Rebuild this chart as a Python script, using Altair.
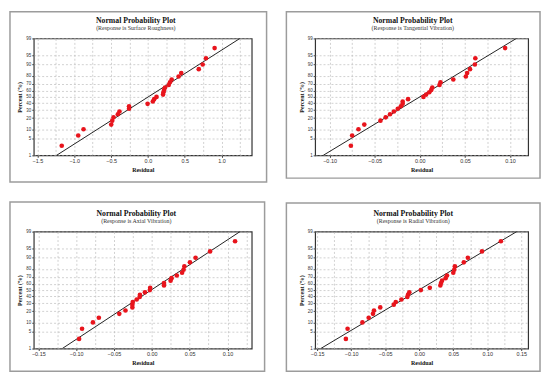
import altair as alt
import pandas as pd
from statistics import NormalDist

# ---------------- data ----------------
percent = [2.6, 6.2, 9.9, 13.5, 17.2, 20.8, 24.5, 28.1, 31.8, 35.4, 39.1, 42.7, 46.4,
           50.0, 53.6, 57.3, 60.9, 64.6, 68.2, 71.9, 75.5, 79.2, 82.8, 86.5, 90.1, 93.8, 97.4]

res_surface = [-1.170, -0.946, -0.874, -0.498, -0.484, -0.466, -0.408, -0.386, -0.256, -0.256,
               -0.004, 0.067, 0.085, 0.117, 0.206, 0.211, 0.220, 0.233, 0.283, 0.300,
               0.323, 0.417, 0.453, 0.691, 0.744, 0.789, 0.906]
res_tangential = [-0.0764, -0.0750, -0.0680, -0.0615, -0.0436, -0.0378, -0.0330, -0.0287, -0.0244,
                  -0.0210, -0.0190, -0.0190, -0.0130, 0.0040, 0.0070, 0.0105, 0.0127, 0.0138,
                  0.0218, 0.0229, 0.0371, 0.0510, 0.0524, 0.0556, 0.0610, 0.0615, 0.0945]
res_axial = [-0.0961, -0.0922, -0.0778, -0.0700, -0.0430, -0.0348, -0.0257, -0.0257, -0.0252,
             -0.0200, -0.0160, -0.0157, -0.0091, -0.0026, -0.0022, 0.0161, 0.0161, 0.0248,
             0.0261, 0.0330, 0.0400, 0.0420, 0.0430, 0.0504, 0.0578, 0.0770, 0.1100]
res_radial = [-0.1078, -0.1053, -0.0835, -0.0743, -0.0680, -0.0665, -0.0573, -0.0374, -0.0345,
              -0.0262, -0.0175, -0.0165, -0.0146, 0.0024, 0.0155, 0.0310, 0.0320, 0.0335,
              0.0388, 0.0408, 0.0500, 0.0515, 0.0524, 0.0655, 0.0714, 0.0922, 0.1200]

fit_percent = [1, 99]
fit_surface = [-1.24, 1.25]
fit_tangential = [-0.107, 0.107]
fit_axial = [-0.1183, 0.1165]
fit_radial = [-0.1447, 0.1432]

y_tick_percent = [1, 5, 10, 20, 30, 40, 50, 60, 70, 80, 90, 95, 99]

labels_surface = [-1.5, -1.0, -0.5, 0.0, 0.5, 1.0]
grid_surface = [-1.5, -1.25, -1.0, -0.75, -0.5, -0.25, 0.0, 0.25, 0.5, 0.75, 1.0, 1.25]
labels_tangential = [-0.10, -0.05, 0.0, 0.05, 0.10]
grid_tangential = [-0.10, -0.075, -0.05, -0.025, 0.0, 0.025, 0.05, 0.075, 0.10]
labels_axial = [-0.15, -0.10, -0.05, 0.0, 0.05, 0.10]
grid_axial = [-0.15, -0.125, -0.10, -0.075, -0.05, -0.025, 0.0, 0.025, 0.05, 0.075, 0.10, 0.125]
labels_radial = [-0.15, -0.10, -0.05, 0.0, 0.05, 0.10, 0.15]
grid_radial = [-0.15, -0.125, -0.10, -0.075, -0.05, -0.025, 0.0, 0.025, 0.05, 0.075, 0.10, 0.125, 0.15]

main_title = "Normal Probability Plot"
subtitles = ["(Response is Surface Roughness)", "(Response is Tangential Vibration)",
             "(Response is Axial Vibration)", "(Response is Radial Vibration)"]

# ---------------- chart building ----------------
nd = NormalDist()
y_tick_z = [nd.inv_cdf(p / 100) for p in y_tick_percent]
zlim = nd.inv_cdf(0.99)

SERIF = "Liberation Serif"
SANS = "Liberation Sans"

y_scale = alt.Scale(domain=[-zlim, zlim], nice=False, zero=False)
y_axis = alt.Axis(values=y_tick_z, labelExpr="format(cumulativeNormal(datum.value)*100, '.0f')",
                  grid=True, gridDash=[2, 2], gridColor="#bdbdbd", gridWidth=0.7,
                  tickSize=2, tickColor="#444", labelFont=SANS, labelFontSize=4.5, labelColor="#333",
                  labelPadding=1, labelFlush=False, domain=False,
                  title="Percent (%)", titleFont=SERIF, titleFontSize=6, titleFontWeight="bold",
                  titleColor="#111", titlePadding=3)


def panel(res, fit, domain, labels, grid, fmt, width, height, sub, tx, frame):
    xs = alt.Scale(domain=domain, nice=False, zero=False)
    pts_df = pd.DataFrame({"residual": res, "percent": percent})
    fit_df = pd.DataFrame({"residual": fit, "percent": fit_percent})
    one = alt.Data(values=[{}])

    fl, ft, fr, fb = frame
    box = alt.Chart(one).mark_rect(fillOpacity=0, stroke="#9c9c9c", strokeWidth=1.5).encode(
        x=alt.value(fl), x2=alt.value(width + fr), y=alt.value(ft), y2=alt.value(height + fb))
    t1 = alt.Chart(one).mark_text(text=main_title, font=SERIF, fontSize=7.8, fontWeight="bold",
                                  color="#111", align="center", baseline="alphabetic").encode(
        x=alt.value(tx), y=alt.value(-16))
    t2 = alt.Chart(one).mark_text(text=sub, font=SERIF, fontSize=6, color="#333",
                                  align="center", baseline="alphabetic").encode(
        x=alt.value(tx), y=alt.value(-8.5))

    grid_axis = alt.Axis(orient="top", values=grid, labels=False, ticks=False, domain=False,
                         grid=True, gridDash=[2, 2], gridColor="#bdbdbd", gridWidth=0.7, title=None)
    label_axis = alt.Axis(orient="bottom", values=labels, format=fmt, grid=False, domain=False,
                          tickSize=2, tickColor="#444", labelFont=SANS, labelFontSize=5.5,
                          labelColor="#333", labelPadding=1.5, labelFlush=False,
                          title="Residual", titleFont=SERIF, titleFontSize=6, titleFontWeight="bold",
                          titleColor="#111", titlePadding=2)

    line = alt.Chart(fit_df).transform_calculate(
        z="quantileNormal(datum.percent / 100)"
    ).mark_line(color="#222", strokeWidth=1, clip=True).encode(
        x=alt.X("residual:Q", scale=xs, axis=label_axis),
        y=alt.Y("z:Q", scale=y_scale, axis=y_axis))
    pts = alt.Chart(pts_df).transform_calculate(
        z="quantileNormal(datum.percent / 100)"
    ).mark_circle(size=22, color="#e8141c", opacity=1).encode(
        x=alt.X("residual:Q", scale=xs, axis=grid_axis),
        y=alt.Y("z:Q", scale=y_scale, axis=y_axis))

    return alt.layer(box, t1, t2, line, pts).resolve_axis(x="independent").properties(
        width=width, height=height)


p1 = panel(res_surface, fit_surface, [-1.55, 1.41], labels_surface, grid_surface, ".1f",
           220, 118, subtitles[0], 103, (-24, -27, 15, 27))
p2 = panel(res_tangential, fit_tangential, [-0.116, 0.120], labels_tangential, grid_tangential, ".2f",
           215, 118, subtitles[1], 98.5, (-29, -27, 12, 23))
p3 = panel(res_axial, fit_axial, [-0.156, 0.132], labels_axial, grid_axial, ".2f",
           220, 118, subtitles[2], 103.5, (-24, -30, 13, 23))
p4 = panel(res_radial, fit_radial, [-0.153, 0.160], labels_radial, grid_radial, ".2f",
           215, 118, subtitles[3], 99, (-29, -29, 12, 23))

chart = alt.concat(p1, p2, p3, p4, columns=2, spacing={"row": 77, "column": 64},
                   bounds="flush").properties(padding=0).configure(
    background="white"
).configure_view(stroke="#333", strokeWidth=1.2)

chart.save("out.html", embed_options={"renderer": "svg", "actions": False})
